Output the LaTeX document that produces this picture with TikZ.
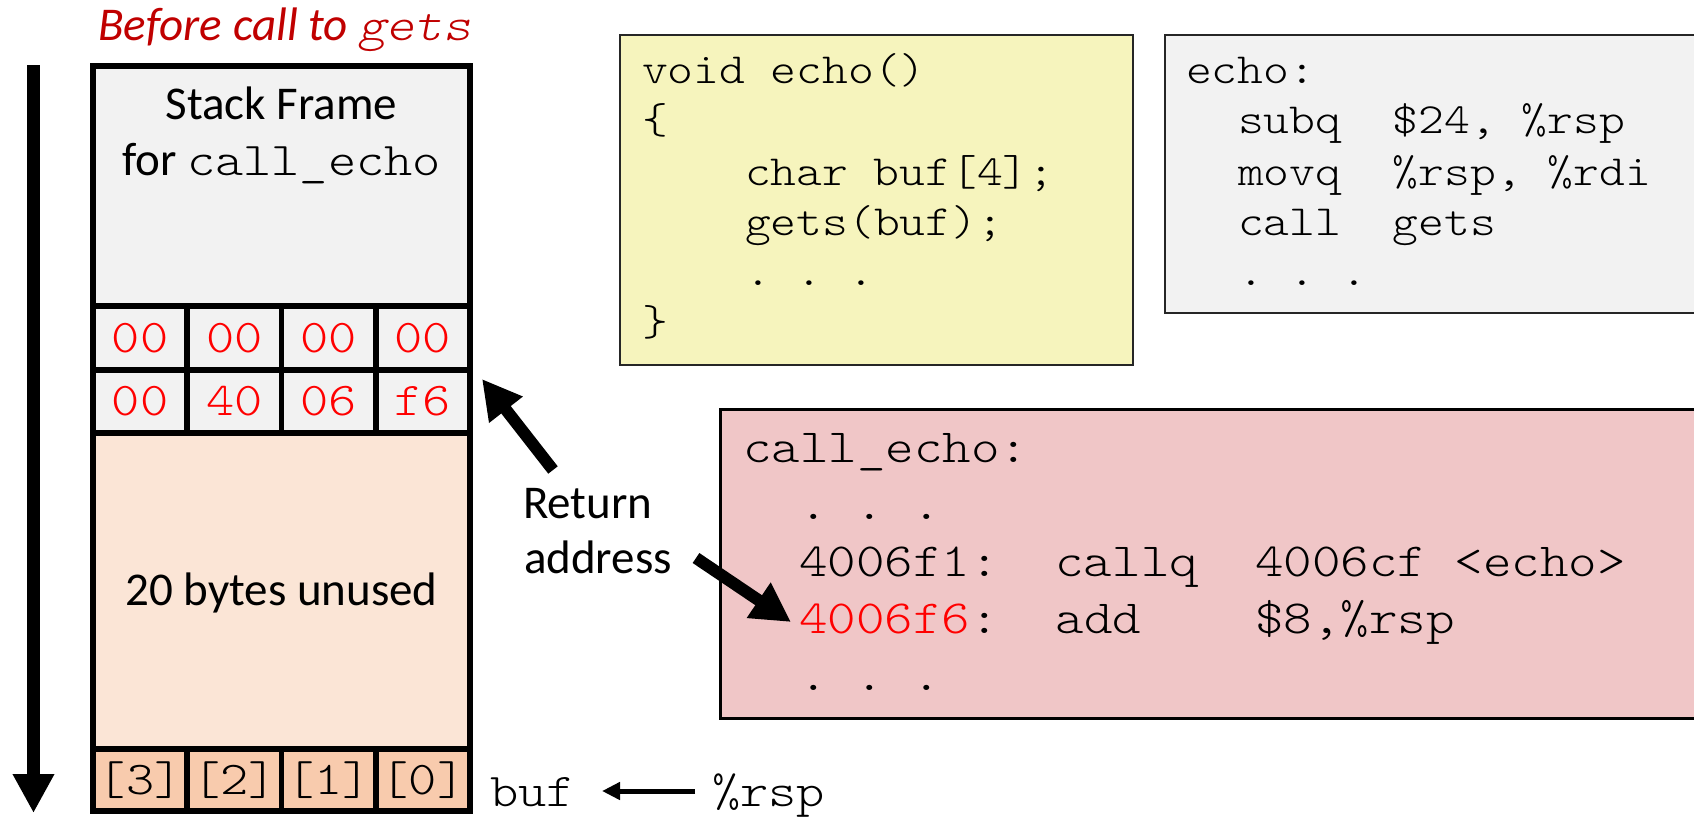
\documentclass[tikz,border=0pt]{standalone}
\usepackage{fontspec}
\setmainfont{Carlito}
\setmonofont{lmmonolt10-regular.otf}[ItalicFont=lmmonolt10-oblique.otf, FakeStretch=1.143]
\usetikzlibrary{arrows.meta}
\definecolor{cgray}{HTML}{F2F2F2}
\definecolor{cpeach}{HTML}{FBE5D6}
\definecolor{corange}{HTML}{F8CBAD}
\definecolor{cyellow}{HTML}{F6F4BD}
\definecolor{cpink}{HTML}{F0C6C7}
\definecolor{ctitle}{HTML}{C00000}
\definecolor{cred}{HTML}{FF0000}
\frenchspacing
\begin{document}
\begin{tikzpicture}[x=1pt,y=-1pt,
  every node/.style={inner sep=0pt, outer sep=0pt},
  sf/.style={font=\fontsize{47}{56}\selectfont},
  mA/.style={font=\ttfamily\fontsize{43}{50}\selectfont},
  mB/.style={font=\ttfamily\fontsize{47.5}{57}\selectfont},
  mC/.style={font=\ttfamily\fontsize{47}{56}\selectfont},
  cellbase/.style={draw=black, line width=5.5pt, minimum width=94.25pt, anchor=center},
  hexA/.style={cellbase, fill=cgray, minimum height=64pt, text=cred, mC},
  hexB/.style={cellbase, fill=cgray, minimum height=63pt, text=cred, mC},
  bufcell/.style={cellbase, fill=corange, minimum height=62pt, mC},
  codebox/.style={draw=#1, anchor=north west},
  fat/.style={line width=12pt, -{Triangle[width=40pt,length=39pt]}},
  line/.style={anchor=base west}
]
\useasboundingbox (0,0) rectangle (1694,820);
\clip (0,0) rectangle (1694,820);

% title
\node[anchor=base west, text=ctitle, font=\fontsize{47}{56}\selectfont\itshape] (title) at (98,40) {Before call to {\ttfamily gets}};

% stack
\node[draw=black, line width=5.5pt, fill=cgray, minimum width=377pt, minimum height=240pt] (frame) at (281.5,186) {};
\node[anchor=base, sf] (sf1) at (281.5,119) {Stack Frame};
\node[anchor=base, sf] (sf2) at (281.5,175) {for {\ttfamily\fontsize{47}{56}\selectfont call\_echo}};

\node[hexA] (a1) at (140.1,338) {00};
\node[hexA] (a2) at (234.4,338) {00};
\node[hexA] (a3) at (328.6,338) {00};
\node[hexA] (a4) at (422.9,338) {00};
\node[hexB] (b1) at (140.1,401.5) {00};
\node[hexB] (b2) at (234.4,401.5) {40};
\node[hexB] (b3) at (328.6,401.5) {06};
\node[hexB] (b4) at (422.9,401.5) {f6};

\node[draw=black, line width=5.5pt, fill=cpeach, minimum width=377pt, minimum height=316pt] (unused) at (281.5,591) {};
\node[anchor=base, sf] (ut) at (281.5,605) {20 bytes unused};

\node[bufcell] (c3) at (140.1,780) {[3]};
\node[bufcell] (c2) at (234.4,780) {[2]};
\node[bufcell] (c1) at (328.6,780) {[1]};
\node[bufcell] (c0) at (422.9,780) {[0]};

% down arrow
\coordinate (dtop) at (33.5,65);
\coordinate (dbot) at (33.5,813);
\draw[line width=13pt, -{Triangle[width=39pt,length=39pt]}] (dtop) -- (dbot);

% buf / rsp
\node[anchor=base west, mC] (buf) at (490,806) {buf};
\node[anchor=base west, mC] (rsp) at (712,806) {\%rsp};
\coordinate (rspT) at (695,791);
\coordinate (bufH) at (602,791);
\draw[line width=5pt, -{Triangle[width=17pt,length=18pt]}] (rspT) -- (bufH);

% return address
\node[anchor=base west, sf] (ret1) at (523,518) {Return};
\node[anchor=base west, sf] (ret2) at (524,573) {address};
\coordinate (ra1s) at (553,470);
\coordinate (ra1e) at (482,379);
\draw[fat] (ra1s) -- (ra1e);

% C code box
\node[codebox=black!85, line width=2.5pt, fill=cyellow, minimum width=513pt, minimum height=330pt] (cbox) at (620,35) {};
\node[line, mA] (c1l) at (642,83) {void echo()};
\node[line, mA] (c2l) at (642,133) {\{};
\node[line, mA] (c3l) at (745,185) {char buf[4];};
\node[line, mA] (c4l) at (745,235) {gets(buf);};
\node[line, mA] (c5l) at (745,285) {.~.~.};
\node[line, mA] (c6l) at (642,335) {\}};

% asm echo box
\node[codebox=black!85, line width=2.5pt, fill=cgray, minimum width=560pt, minimum height=278pt] (abox) at (1165,35) {};
\node[line, mA] (e1) at (1186,83) {echo:};
\node[line, mA] (e2) at (1238,133) {subq~~\$24,~\%rsp};
\node[line, mA] (e3) at (1238,185) {movq~~\%rsp,~\%rdi};
\node[line, mA] (e4) at (1238,235) {call~~gets};
\node[line, mA] (e5) at (1238,285) {.~.~.};

% call_echo box
\node[codebox=black, line width=3pt, fill=cpink, minimum width=1000pt, minimum height=309pt] (pbox) at (720,409) {};
\node[line, mB] (p1) at (743,462) {call\_echo:};
\node[line, mB] (p2) at (799,519) {.~.~.};
\node[line, mB] (p3) at (799,576) {4006f1:~~callq~~4006cf~<echo>};
\node[line, mB] (p4) at (799,633) {\textcolor{cred}{4006f6}:~~add~~~~\$8,\%rsp};
\node[line, mB] (p5) at (799,690) {.~.~.};

\coordinate (ra2s) at (696,558);
\coordinate (ra2e) at (791,622);
\draw[fat] (ra2s) -- (ra2e);
\end{tikzpicture}
\end{document}
